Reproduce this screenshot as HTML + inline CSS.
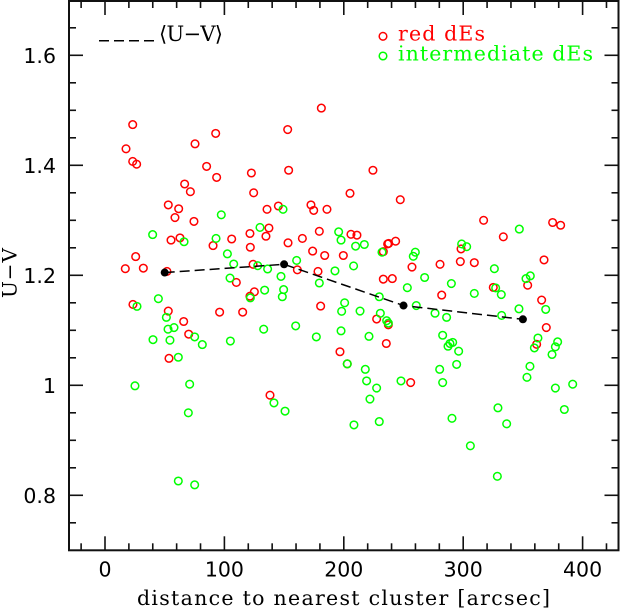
<!DOCTYPE html>
<html lang="en">
<head>
<meta charset="utf-8">
<title>U-V colour vs distance to nearest cluster</title>
<style>
html,body{margin:0;padding:0;background:#fff;width:620px;height:611px;overflow:hidden}
svg{display:block}
text{font-family:"DejaVu Serif","Liberation Serif",serif;fill:#000}
.num{font-family:"DejaVu Sans","Liberation Sans",sans-serif;font-size:20.5px}
</style>
</head>
<body>
<svg id="chart" width="620" height="611" viewBox="0 0 620 611" xmlns="http://www.w3.org/2000/svg">
<g id="axes"></g>
<g id="red-points"></g>
<g id="green-points"></g>
<g id="mean-line"></g>
<rect x="69" y="1" width="549.5" height="549.3" fill="none" stroke="#111" stroke-width="2"/>
<line x1="99" y1="40.7" x2="155" y2="40.7" stroke="#000" stroke-width="1.5" stroke-dasharray="10 5"/>
<text x="159" y="41" font-size="21" textLength="64" lengthAdjust="spacing">⟨U−V⟩</text>
<circle cx="383" cy="36.3" r="3.8" fill="none" stroke="#f00" stroke-width="1.5"/>
<text x="398" y="40.7" font-size="20.5" textLength="87" lengthAdjust="spacing" style="fill:#f00">red dEs</text>
<circle cx="383" cy="56" r="3.8" fill="none" stroke="#0f0" stroke-width="1.5"/>
<text x="398" y="60.7" font-size="20.5" textLength="195" lengthAdjust="spacing" style="fill:#0f0">intermediate dEs</text>
<text x="137" y="605" font-size="20.5" textLength="413" lengthAdjust="spacing">distance to nearest cluster [arcsec]</text>
<text transform="translate(16.5,298) rotate(-90)" x="0" y="0" font-size="20" textLength="50" lengthAdjust="spacing">U−V</text>
</svg>
<script>
const xMajorTicks = [0, 100, 200, 300, 400];
const xMinorTicks = [-20, 20, 40, 60, 80, 120, 140, 160, 180, 220, 240, 260, 280, 320, 340, 360, 380, 420];
const yMajorTicks = [0.8, 1.0, 1.2, 1.4, 1.6];
const yMinorTicks = [0.75, 0.85, 0.9, 0.95, 1.05, 1.1, 1.15, 1.25, 1.3, 1.35, 1.45, 1.5, 1.55, 1.65];
const xTickLabels = ['0', '100', '200', '300', '400'];
const yTickLabels = ['0.8', '1', '1.2', '1.4', '1.6'];

const redDistance = [23.2,17.6,23.2,26.5,92.7,75.4,85.1,93.5,153,181.2,153.8,122.6,124.5,66.7,71.5,53,61.7,58.6,74.5,135.7,145.2,172.5,174.8,185.9,179.5,137.3,121.4,134.8,55.3,62.8,90.5,106.1,121.7,153.3,165.3,173.9,184,25.7,17,32.1,51.9,124,161.1,178.4,224.4,205.2,247.3,317.1,374.9,381.6,206,211,333.6,236.7,237.6,243.4,298.2,199.6,233.1,367.7,257.1,280.6,297.6,309.3,110,125.1,121.4,23.4,53,96,115.3,180.6,65.9,70.1,53.6,138.2,196.8,282,325.2,354,365.7,227.5,237.3,235.6,369.6,361.5,202.9,256,233.1,240.6];
const redColor = [1.474,1.43,1.407,1.402,1.458,1.439,1.398,1.378,1.465,1.504,1.391,1.386,1.35,1.366,1.352,1.328,1.321,1.305,1.298,1.32,1.326,1.328,1.318,1.32,1.28,1.286,1.276,1.271,1.264,1.268,1.254,1.266,1.251,1.259,1.267,1.244,1.236,1.234,1.212,1.213,1.207,1.22,1.21,1.207,1.391,1.349,1.3375,1.3,1.296,1.291,1.2745,1.273,1.27,1.257,1.258,1.262,1.248,1.236,1.243,1.228,1.215,1.22,1.225,1.223,1.187,1.17,1.162,1.147,1.135,1.133,1.133,1.144,1.116,1.093,1.049,0.982,1.061,1.164,1.178,1.182,1.155,1.1205,1.11,1.076,1.105,1.0745,1.039,1.005,1.193,1.194];

const greenDistance = [149.1,97.4,129.8,39.9,66.2,93,195.7,197.7,102.5,160.5,107.8,127.9,136.2,192.6,347,209.9,217.2,232,259.9,258.2,298.7,302.9,208.2,326.1,104.7,147.4,179.5,133.7,149.6,148.5,121.7,44.7,26.8,51.4,57.8,52.8,40.2,54.4,75.1,81.5,105,132.9,159.7,177,198.2,197.7,61.4,25.1,70.9,69.8,141.5,150.8,61.4,75.1,267.7,253.2,290.1,309.3,327.2,331.9,352.6,356.2,229.7,200.7,213.6,260.7,276.4,286.1,230.6,235.9,237.3,346.7,369.1,332.2,221.1,282.8,288.9,291.2,287.3,296.2,362.6,359.6,379.1,377.2,374.4,202.9,294.5,355.9,218,280.3,219.1,247.9,282.8,353.4,227.5,377.2,391.7,221.9,329.1,384.7,290.6,229.7,208.5,336.4,306,328.6];
const greenColor = [1.32,1.31,1.287,1.274,1.261,1.267,1.279,1.264,1.239,1.227,1.2205,1.2175,1.2115,1.208,1.284,1.253,1.256,1.242,1.242,1.2345,1.257,1.252,1.217,1.212,1.195,1.198,1.186,1.173,1.174,1.161,1.159,1.1575,1.1435,1.1235,1.105,1.102,1.083,1.082,1.088,1.074,1.0805,1.102,1.108,1.088,1.1345,1.099,1.051,0.999,1.002,0.95,0.968,0.953,0.826,0.819,1.196,1.1775,1.185,1.167,1.177,1.165,1.194,1.199,1.161,1.15,1.135,1.145,1.131,1.1235,1.131,1.1175,1.113,1.139,1.138,1.127,1.089,1.091,1.076,1.078,1.071,1.062,1.086,1.068,1.079,1.07,1.056,1.039,1.038,1.0345,1.029,1.029,1.008,1.008,1.005,1.0145,0.995,0.995,1.002,0.975,0.959,0.956,0.94,0.934,0.928,0.93,0.89,0.8345];

const meanDistance = [50, 150, 250, 350];
const meanColor = [1.205, 1.22, 1.145, 1.12];

const SVG_NS = 'http://www.w3.org/2000/svg';
function xScale(v) { return 105 + 1.194 * v; }
function yScale(v) { return 385.3 - (v - 1) * 550; }
const plotLeft = 69, plotRight = 618.5, plotTop = 1, plotBottom = 550.3;

function make(tag, attrs, parent) {
  const el = document.createElementNS(SVG_NS, tag);
  for (const k in attrs) el.setAttribute(k, attrs[k]);
  parent.appendChild(el);
  return el;
}

const axes = document.getElementById('axes');

function drawXTick(v, len, side) {
  const x = xScale(v);
  const y1 = side === 'bottom' ? plotBottom : plotTop;
  const y2 = side === 'bottom' ? plotBottom - len : plotTop + len;
  const t = make('line', {x1: x, x2: x, y1: y1, y2: y2, stroke: '#111', 'stroke-width': 1.6}, axes);
  
  
}
function drawYTick(v, len, side) {
  const y = yScale(v);
  const x1 = side === 'left' ? plotLeft : plotRight;
  const x2 = side === 'left' ? plotLeft + len : plotRight - len;
  const t = make('line', {x1: x1, x2: x2, y1: y, y2: y, stroke: '#111', 'stroke-width': 1.6}, axes);
  
  
}
['bottom', 'top'].forEach(function (s) {
  xMajorTicks.forEach(function (v) { drawXTick(v, 14, s); });
  xMinorTicks.forEach(function (v) { drawXTick(v, 7, s); });
});
['left', 'right'].forEach(function (s) {
  yMajorTicks.forEach(function (v) { drawYTick(v, 14, s); });
  yMinorTicks.forEach(function (v) { drawYTick(v, 7, s); });
});

xMajorTicks.forEach(function (v, i) {
  const t = make('text', {x: xScale(v), y: 576.7, 'text-anchor': 'middle', class: 'num'}, axes);
  
  
  t.textContent = xTickLabels[i];
});
yMajorTicks.forEach(function (v, i) {
  const t = make('text', {x: 56, y: yScale(v) + 7.5, 'text-anchor': 'end', class: 'num'}, axes);
  
  
  t.textContent = yTickLabels[i];
});

const redGroup = document.getElementById('red-points');
redDistance.forEach(function (d, i) {
  const c = make('circle', {cx: xScale(d), cy: yScale(redColor[i]), r: 3.8, fill: 'none', stroke: '#f00', 'stroke-width': 1.5}, redGroup);
  
  
});

const greenGroup = document.getElementById('green-points');
greenDistance.forEach(function (d, i) {
  const c = make('circle', {cx: xScale(d), cy: yScale(greenColor[i]), r: 3.8, fill: 'none', stroke: '#0f0', 'stroke-width': 1.5}, greenGroup);
  
  
});

const meanGroup = document.getElementById('mean-line');
const meanPts = meanDistance.map(function (d, i) { return xScale(d) + ',' + yScale(meanColor[i]); }).join(' ');
const meanPath = make('polyline', {points: meanPts, fill: 'none', stroke: '#000', 'stroke-width': 1.5, 'stroke-dasharray': '10 5'}, meanGroup);


meanDistance.forEach(function (d, i) {
  const c = make('circle', {cx: xScale(d), cy: yScale(meanColor[i]), r: 4, fill: '#000'}, meanGroup);
  
  
});
</script>
</body>
</html>
